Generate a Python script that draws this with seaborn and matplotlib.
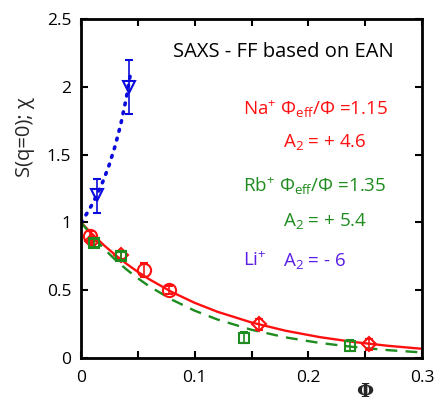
import matplotlib
matplotlib.use("Agg")
import matplotlib.pyplot as plt
import seaborn as sns
import pandas as pd
from matplotlib.ticker import MultipleLocator

# ---------------- data ----------------
# Na+ measurements (red): open circles and diamonds
na_circ_x = [0.008, 0.055, 0.077]
na_circ_y = [0.90, 0.65, 0.50]
na_circ_err = [0.04, 0.05, 0.03]
na_diam_x = [0.010, 0.035, 0.157, 0.253]
na_diam_y = [0.86, 0.76, 0.25, 0.10]
na_diam_err = [0.03, 0.03, 0.04, 0.04]

# Rb+ measurements (green squares)
rb_x = [0.011, 0.035, 0.143, 0.237]
rb_y = [0.85, 0.75, 0.15, 0.09]
rb_err = [0.03, 0.03, 0.04, 0.04]

# Li+ measurements (blue triangles)
li_x = [0.014, 0.042]
li_y = [1.20, 2.00]
li_err_lo = [0.13, 0.20]
li_err_hi = [0.12, 0.20]

# fitted curves, values
curve_phi = [0.0, 0.01, 0.02, 0.03, 0.04, 0.05, 0.06, 0.08, 0.10, 0.12,
             0.15, 0.18, 0.21, 0.24, 0.27, 0.30]
na_curve = [1.0, 0.912, 0.833, 0.761, 0.695, 0.635, 0.581, 0.486, 0.407,
            0.341, 0.262, 0.201, 0.154, 0.118, 0.090, 0.068]
rb_curve = [1.0, 0.898, 0.807, 0.726, 0.653, 0.588, 0.529, 0.430, 0.349,
            0.284, 0.208, 0.152, 0.111, 0.081, 0.058, 0.041]
li_curve_phi = [0.0, 0.005, 0.01, 0.015, 0.02, 0.025, 0.03, 0.035, 0.04, 0.044]
li_curve = [1.0, 1.064, 1.136, 1.220, 1.316, 1.429, 1.563, 1.724, 1.923, 2.12]

x_ticks = [0, 0.1, 0.2, 0.3]
x_tick_labels = ["0", "0.1", "0.2", "0.3"]
y_ticks = [0, 0.5, 1, 1.5, 2, 2.5]
y_tick_labels = ["0", "0.5", "1", "1.5", "2", "2.5"]

RED = "#ff1010"
GREEN = "#1e8c1e"
BLUE = "#0a0adc"
LI_TXT = "#5a1ee6"

# ---------------- style ----------------
sns.set_style("ticks")
plt.rcParams["font.family"] = ["Open Sans", "DejaVu Sans"]
plt.rcParams["mathtext.fontset"] = "custom"
plt.rcParams["mathtext.rm"] = "Open Sans"
plt.rcParams["mathtext.it"] = "Open Sans:italic"
plt.rcParams["mathtext.bf"] = "Open Sans:bold"

fig = plt.figure(figsize=(4.38, 4.03), dpi=100)
ax = fig.add_axes([81 / 438, 1 - 358 / 403, (422 - 81) / 438, (358 - 19) / 403])

# curves
sns.lineplot(x=curve_phi, y=na_curve, ax=ax, color=RED, lw=1.7, sort=False)
sns.lineplot(x=curve_phi, y=rb_curve, ax=ax, color=GREEN, lw=1.7, sort=False,
             linestyle=(0, (5, 3.5)))
sns.lineplot(x=li_curve_phi, y=li_curve, ax=ax, color=BLUE, lw=2.6, sort=False,
             linestyle=(0, (0.5, 2.0)), dash_capstyle="round")

# data points with error bars
ax.errorbar(na_circ_x, na_circ_y, yerr=na_circ_err, fmt="o", ms=9.5, mfc="none",
            mec=RED, mew=1.5, ecolor=RED, elinewidth=1.2, capsize=3, zorder=5)
ax.errorbar(na_diam_x, na_diam_y, yerr=na_diam_err, fmt="D", ms=7.5, mfc="none",
            mec=RED, mew=1.5, ecolor=RED, elinewidth=1.2, capsize=3, zorder=5)
ax.errorbar(rb_x, rb_y, yerr=rb_err, fmt="s", ms=6.5, mfc="none",
            mec=GREEN, mew=1.5, ecolor=GREEN, elinewidth=1.2, capsize=3, zorder=6)
ax.errorbar(li_x, li_y, yerr=[li_err_lo, li_err_hi], fmt="v", ms=9, mfc="none",
            mec=BLUE, mew=1.5, ecolor=BLUE, elinewidth=1.2, capsize=3, zorder=6)

# axes
ax.set_xlim(0, 0.3)
ax.set_ylim(0, 2.5)
ax.set_xticks(x_ticks)
ax.set_xticklabels(x_tick_labels)
ax.set_yticks(y_ticks)
ax.set_yticklabels(y_tick_labels)
ax.xaxis.set_minor_locator(MultipleLocator(0.05))
for s in ax.spines.values():
    s.set_visible(True)
    s.set_linewidth(2)
    s.set_color("black")
ax.tick_params(which="both", direction="in", top=True, right=True,
               width=1.5, colors="black", labelsize=12.5)
ax.tick_params(axis="x", pad=9)
ax.tick_params(axis="y", pad=7)
ax.tick_params(which="major", length=5)
ax.tick_params(which="minor", length=5)

ax.set_ylabel("S(q=0); χ", fontsize=14.5)
ax.yaxis.set_label_coords(-0.135, 0.652)
ax.set_xlabel("Φ", fontsize=14, fontweight="bold", family="DejaVu Serif")
ax.xaxis.set_label_coords(0.833, -0.075)

# annotations
fs = 13.5
fig.text(173 / 438, 1 - 52 / 403, "SAXS - FF based on EAN", fontsize=14.5,
         color="black", va="center", ha="left")
def ftxt(x, y, s, c):
    fig.text(x / 438, 1 - y / 403, s, color=c, fontsize=fs, va="center", ha="left")

ftxt(243, 109, r"Na$^{+}$ $\Phi_{\rm eff}$/$\Phi$ =1.15", RED)
ftxt(283, 142, r"A$_2$ = + 4.6", RED)
ftxt(243, 186, r"Rb$^{+}$ $\Phi_{\rm eff}$/$\Phi$ =1.35", GREEN)
ftxt(283, 221, r"A$_2$ = + 5.4", GREEN)
ftxt(243, 261, r"Li$^{+}$", LI_TXT)
ftxt(283, 261, r"A$_2$ = - 6", LI_TXT)

fig.savefig("out.png", dpi=100)
